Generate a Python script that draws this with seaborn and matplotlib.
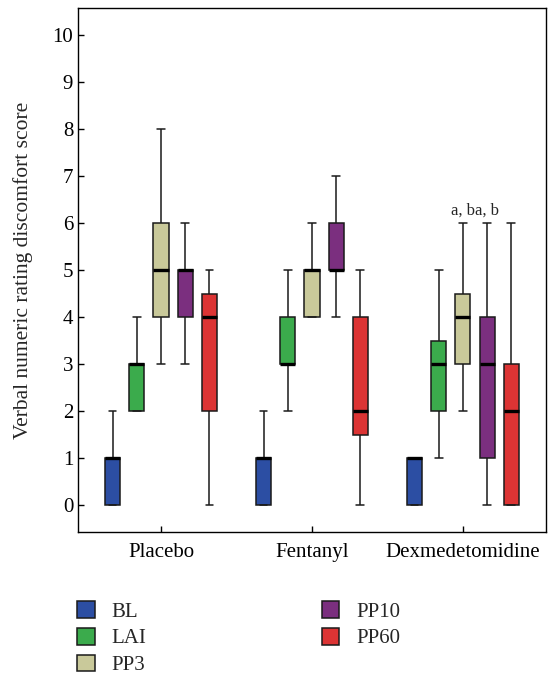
import pandas as pd
import matplotlib
matplotlib.use("Agg")
import matplotlib.pyplot as plt
import seaborn as sns

# ------------------------------------------------------------
# Data: each box given as [min, q1, median, q3, max]
groups = ["Placebo", "Fentanyl", "Dexmedetomidine"]
series = ["BL", "LAI", "PP3", "PP10", "PP60"]

bl_stats = [[0, 0, 1, 1, 2], [0, 0, 1, 1, 2], [0, 0, 1, 1, 1]]
lai_stats = [[2, 2, 3, 3, 4], [2, 3, 3, 4, 5], [1, 2, 3, 3.5, 5]]
pp3_stats = [[3, 4, 5, 6, 8], [4, 4, 5, 5, 6], [2, 3, 4, 4.5, 6]]
pp10_stats = [[3, 4, 5, 5, 6], [4, 5, 5, 6, 7], [0, 1, 3, 4, 6]]
pp60_stats = [[0, 2, 4, 4.5, 5], [0, 1.5, 2, 4, 5], [0, 0, 2, 3, 6]]

colors = ["#2c4ea3", "#3bab4c", "#c9c99a", "#7b2f7f", "#dc3434"]

annot_group = "Dexmedetomidine"
annot_series = ["PP3", "PP10"]
annot_text = "a, b"

# ------------------------------------------------------------
# Long-form table (5 values per box -> quartiles come out exactly)
all_stats = dict(zip(series, [bl_stats, lai_stats, pp3_stats, pp10_stats, pp60_stats]))
rows = []
for s in series:
    for g, vals in zip(groups, all_stats[s]):
        for v in vals:
            rows.append({"Group": g, "Time": s, "Score": v})
data = pd.DataFrame(rows)

# ------------------------------------------------------------
sns.set_style("ticks")
plt.rcParams["font.family"] = ["Liberation Serif", "DejaVu Serif"]
plt.rcParams["font.size"] = 15

fig = plt.figure(figsize=(5.52, 6.74), dpi=100)
ax = fig.add_axes([0.1413, 0.2107, 0.989 - 0.1413, 0.988 - 0.2107])

sns.boxplot(data=data, x="Group", y="Score", hue="Time", order=groups,
            hue_order=series, palette=colors, whis=(0, 100), width=0.8,
            gap=0.375, linecolor="#1a1a1a", linewidth=1.1, saturation=1,
            medianprops=dict(color="black", linewidth=2.4), ax=ax)

ax.set_xlim(-0.55, 2.55)
ax.set_ylim(-0.57, 10.57)
ax.set_yticks(range(0, 11))
ax.set_xlabel("")
ax.set_ylabel("Verbal numeric rating discomfort score", fontsize=15.5, labelpad=14)
ax.tick_params(direction="in", length=4, width=1, labelsize=15, colors="black")
ax.tick_params(axis="x", pad=8)
for sp in ax.spines.values():
    sp.set_visible(True)
    sp.set_linewidth(1)
    sp.set_color("black")

# significance marks above whiskers
step = 0.8 / len(series)
gi = groups.index(annot_group)
for s in annot_series:
    si = series.index(s)
    xpos = gi - 0.4 + step * (si + 0.5)
    top = all_stats[s][gi][-1]
    ax.text(xpos, top + 0.1, annot_text, ha="center", va="bottom", fontsize=12)

handles, labels = ax.get_legend_handles_labels()
ax.get_legend().remove()
fig.legend(handles, labels, ncol=2, loc="upper left", bbox_to_anchor=(0.14, 0.108),
           frameon=False, fontsize=15, handlelength=0.85, handleheight=0.85,
           handletextpad=0.8, labelspacing=0.3, columnspacing=8.4,
           borderaxespad=0, borderpad=0)

plt.savefig("out.png", dpi=100)
